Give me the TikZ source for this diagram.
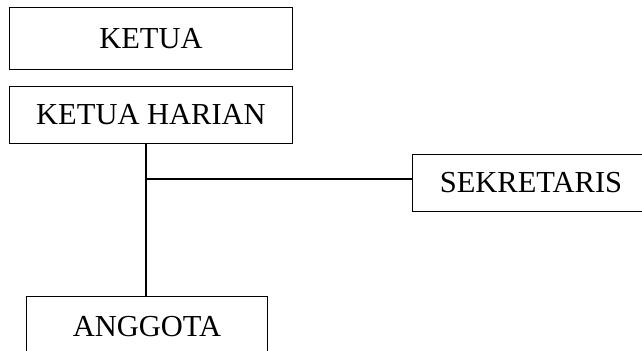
\documentclass[tikz,border=0pt]{standalone}
\usepackage{fontspec}
\setmainfont{Liberation Serif}
\begin{document}
\begin{tikzpicture}[x=1bp,y=-1bp,
  box/.style={draw,line width=1bp,inner sep=0pt,text height=20bp,text depth=0pt,
    font=\fontsize{30.5bp}{36bp}\selectfont},
  conn/.style={line width=1.1bp}]
\useasboundingbox (0,0) rectangle (642,350);
\clip (0,0) rectangle (642,350);
\node[box,minimum width=282bp,minimum height=62bp] (ketua) at (151,38) {KETUA};
\node[box,minimum width=282bp,minimum height=57bp] (harian) at (151,114.5) {KETUA HARIAN};
\node[box,minimum width=238bp,minimum height=57bp] (sek) at (531,182.5) {SEKRETARIS};
\node[box,minimum width=240bp,minimum height=60bp] (ang) at (147,326) {ANGGOTA};
\coordinate (j) at (146,179);
\draw[conn] (harian.south -| j) -- (ang.north -| j);
\draw[conn] (j) -- (sek.west |- j);
\end{tikzpicture}
\end{document}
